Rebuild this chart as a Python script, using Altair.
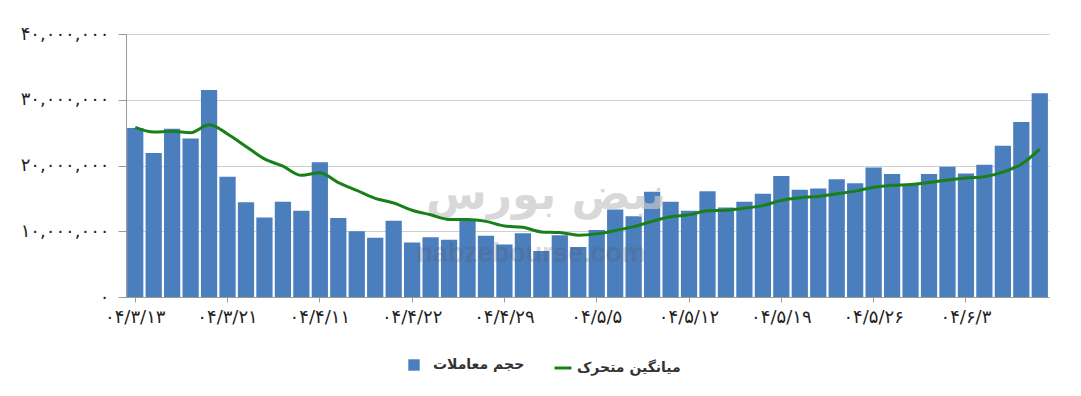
import altair as alt
import pandas as pd

FA = str.maketrans("0123456789", "۰۱۲۳۴۵۶۷۸۹")

# Trading dates (Jalali, 1404) shown on the category axis
dates_latin = [
    "04/3/13", "04/3/17", "04/3/18", "04/3/19", "04/3/20",
    "04/3/21", "04/4/7", "04/4/8", "04/4/9", "04/4/10",
    "04/4/11", "04/4/16", "04/4/17", "04/4/18", "04/4/21",
    "04/4/22", "04/4/23", "04/4/24", "04/4/25", "04/4/28",
    "04/4/29", "04/4/30", "04/4/31", "04/5/1", "04/5/4",
    "04/5/5", "04/5/6", "04/5/7", "04/5/8", "04/5/11",
    "04/5/12", "04/5/13", "04/5/14", "04/5/15", "04/5/18",
    "04/5/19", "04/5/20", "04/5/21", "04/5/22", "04/5/25",
    "04/5/26", "04/5/27", "04/5/28", "04/5/29", "04/6/1",
    "04/6/3", "04/6/4", "04/6/5", "04/6/8", "04/6/9",
]
dates = [d.translate(FA) for d in dates_latin]

# Trading volume (حجم معاملات)
volume = [
    25_700_000, 21_900_000, 25_600_000, 24_100_000, 31_500_000,
    18_300_000, 14_400_000, 12_100_000, 14_500_000, 13_100_000,
    20_500_000, 12_000_000, 10_000_000, 9_000_000, 11_600_000,
    8_300_000, 9_100_000, 8_700_000, 11_800_000, 9_300_000,
    8_000_000, 9_700_000, 7_000_000, 9_400_000, 7_600_000,
    10_200_000, 13_300_000, 12_300_000, 16_000_000, 14_500_000,
    13_100_000, 16_100_000, 13_600_000, 14_500_000, 15_700_000,
    18_400_000, 16_300_000, 16_500_000, 17_900_000, 17_300_000,
    19_700_000, 18_700_000, 17_100_000, 18_700_000, 19_800_000,
    18_800_000, 20_100_000, 23_000_000, 26_600_000, 31_000_000,
]

# Moving average (میانگین متحرک)
moving_avg = [
    25_800_000, 25_100_000, 25_200_000, 25_000_000, 26_200_000,
    24_800_000, 22_900_000, 21_000_000, 19_900_000, 18_500_000,
    18_900_000, 17_400_000, 16_200_000, 15_000_000, 14_300_000,
    13_200_000, 12_500_000, 11_800_000, 11_800_000, 11_500_000,
    10_800_000, 10_600_000, 9_900_000, 9_800_000, 9_400_000,
    9_600_000, 10_100_000, 10_700_000, 11_500_000, 12_200_000,
    12_500_000, 13_100_000, 13_200_000, 13_500_000, 13_900_000,
    14_700_000, 15_100_000, 15_300_000, 15_700_000, 16_100_000,
    16_700_000, 17_000_000, 17_100_000, 17_400_000, 17_800_000,
    18_100_000, 18_300_000, 19_000_000, 20_200_000, 22_500_000,
]

x_tick_labels = [t.translate(FA) for t in [
    "04/3/13", "04/3/21", "04/4/11", "04/4/22", "04/4/29",
    "04/5/5", "04/5/12", "04/5/19", "04/5/26", "04/6/3",
]]
y_tick_values = [0, 10_000_000, 20_000_000, 30_000_000, 40_000_000]
y_tick_labels = [f"{v:,}".translate(FA) for v in y_tick_values]

series_bar = "حجم معاملات"
series_line = "میانگین متحرک"

df = pd.DataFrame({
    "date": dates,
    "volume": volume,
    "ma": moving_avg,
    "s_bar": series_bar,
    "s_line": series_line,
})

label_expr = " : ".join(
    f"datum.value == {v} ? '{lab}'" for v, lab in zip(y_tick_values, y_tick_labels)
) + " : ''"

FONT = "DejaVu Sans"
BLUE = "#4b7ebd"
GREEN = "#18801a"

x_enc = alt.X(
    "date:N", sort=dates, title=None,
    scale=alt.Scale(paddingInner=0.12, paddingOuter=0.06),
    axis=alt.Axis(
        values=x_tick_labels, labelAngle=0, labelFont=FONT, labelFontSize=18,
        labelColor="#222", labelPadding=6, tickSize=5, tickColor="#999",
        domainColor="#999", grid=False,
    ),
)
y_enc = alt.Y(
    "volume:Q", title=None,
    scale=alt.Scale(domain=[0, 40_000_000], nice=False),
    axis=alt.Axis(
        values=y_tick_values, labelExpr=label_expr, labelFont=FONT,
        labelFontSize=18, labelColor="#222", labelPadding=9, tickSize=8,
        tickColor="#999", domainColor="#999", gridColor="#cfcfcf",
    ),
)

bars = alt.Chart(df).mark_bar(color=BLUE).encode(
    x=x_enc,
    y=y_enc,
    color=alt.Color(
        "s_bar:N",
        scale=alt.Scale(domain=[series_bar], range=[BLUE]),
        legend=alt.Legend(
            title=None, orient="none", legendX=281, legendY=324,
            symbolType="square", symbolSize=130, symbolStrokeWidth=0,
            labelFont=FONT, labelFontSize=14, labelFontWeight="bold",
            labelColor="#333", labelOffset=12, padding=0,
        ),
    ),
)

wm = pd.DataFrame({"t": ["nabzebourse.com"], "p": ["نبض بورس"]})
wm_url = alt.Chart(wm).mark_text(
    font="Liberation Sans", fontSize=27, fontWeight="bold", color="#555",
    opacity=0.22,
).encode(text="t:N", x=alt.value(405), y=alt.value(220))
wm_fa = alt.Chart(wm).mark_text(
    font=FONT, fontSize=44, fontWeight="bold", color="#c8c8c8", opacity=0.7,
).encode(text="p:N", x=alt.value(420), y=alt.value(162))

line = alt.Chart(df).mark_line(strokeWidth=3, interpolate="monotone").encode(
    x=alt.X("date:N", sort=dates),
    y=alt.Y("ma:Q"),
    color=alt.Color(
        "s_line:N",
        scale=alt.Scale(domain=[series_line], range=[GREEN]),
        legend=alt.Legend(
            title=None, orient="none", legendX=427, legendY=324,
            symbolType="stroke", symbolSize=289, symbolStrokeWidth=3,
            labelFont=FONT, labelFontSize=14, labelFontWeight="bold",
            labelColor="#333", labelOffset=4, padding=0,
        ),
    ),
)

chart = (
    alt.layer(bars, wm_fa, wm_url, line)
    .resolve_scale(color="independent")
    .resolve_legend(color="independent")
    .properties(
        width=923, height=263,
        autosize=alt.AutoSizeParams(type="none"),
        padding={"left": 126, "top": 34, "right": 32, "bottom": 99},
        background="white",
    )
    .configure_view(stroke=None)
)

chart.save("out.html", embed_options={"renderer": "svg", "actions": False})
